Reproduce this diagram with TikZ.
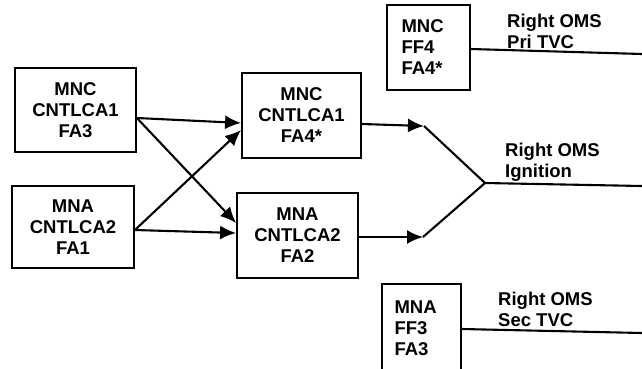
\documentclass[tikz,border=0pt]{standalone}
\usepackage{fontspec}
\setmainfont{Liberation Sans}
\usetikzlibrary{arrows.meta}
\begin{document}
\begin{tikzpicture}[x=1pt,y=-1pt,
  every node/.style={font=\bfseries\fontsize{18.5}{21}\selectfont},
  box/.style={draw,line width=1.8pt,align=center,inner sep=0pt},
  lbox/.style={draw,line width=1.8pt,align=left,inner ysep=0pt,text width=54pt},
  conn/.style={line width=2.1pt},
  arr/.style={conn,-{Latex[length=16pt,width=14pt]}},
  lab/.style={align=left,anchor=base west,inner sep=0pt}]
\clip (0,0) rectangle (642,368);
\fill[white] (0,0) rectangle (642,368);
% boxes
\node[box,minimum width=121pt,minimum height=84pt] (A) at (75.5,110) {MNC\\CNTLCA1\\FA3};
\node[box,minimum width=122pt,minimum height=82pt] (B) at (73,227) {MNA\\CNTLCA2\\FA1};
\node[box,minimum width=119pt,minimum height=85pt] (C) at (301.5,115.5) {MNC\\CNTLCA1\\FA4*};
\node[box,minimum width=121pt,minimum height=85pt] (D) at (297.5,235.5) {MNA\\CNTLCA2\\FA2};
\node[lbox,inner xsep=14.5pt,minimum height=85pt] (E) at (428.5,47.5) {MNC\\FF4\\FA4*};
\node[lbox,inner xsep=12.5pt,minimum height=88pt] (F) at (421.5,328) {MNA\\FF3\\FA3};
% labels
\node[lab] (L1) at (507,48) {Right OMS\\Pri TVC};
\node[lab] (L2) at (505,177) {Right OMS\\Ignition};
\node[lab] (L3) at (498,326.5) {Right OMS\\Sec TVC};
% coordinates
\coordinate (a1) at ([yshift=-8pt]A.east);
\coordinate (b1) at ([yshift=-3pt]B.east);
\coordinate (c1) at ([yshift=-7.5pt]C.west);
\coordinate (c2) at ([yshift=-14.5pt]C.west);
\coordinate (d1) at ([yshift=12.5pt]D.west);
\coordinate (d2) at ([yshift=2.5pt]D.west);
\coordinate (c3) at ([yshift=-8.5pt]C.east);
\coordinate (d3) at ([yshift=-1.5pt]D.east);
\coordinate (u) at (424,126);
\coordinate (v) at (423,237);
\coordinate (j) at (485,183);
\coordinate (r1) at (642,54);
\coordinate (r2) at (642,186);
\coordinate (r3) at (642,333);
% connectors
\draw[arr] (a1) -- (c1);
\draw[arr] (a1) -- (d1);
\draw[arr] (b1) -- (c2);
\draw[arr] (b1) -- (d2);
\draw[arr] (c3) -- (u);
\draw[arr] (d3) -- (v);
\draw[conn,line join=miter] (u) -- (j) -- (v);
\draw[conn] (j) -- (r2);
\draw[conn] ([yshift=-1.5pt]E.east) -- (r1);
\draw[conn] ([yshift=-1pt]F.east) -- (r3);
\end{tikzpicture}
\end{document}
